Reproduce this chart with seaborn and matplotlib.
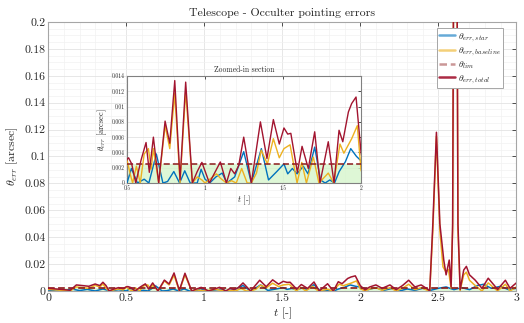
import numpy as np
import pandas as pd
import matplotlib
matplotlib.use('Agg')
import matplotlib.pyplot as plt
from matplotlib.lines import Line2D
from matplotlib.ticker import MultipleLocator
import seaborn as sns

# Values (t in [-], errors in arcsec)
theta_lim = 0.0025

t_star = [0.00, 0.05, 0.10, 0.15, 0.20, 0.25, 0.30, 0.35, 0.40, 0.45, 0.50, 0.528, 0.567,
          0.61, 0.64, 0.688, 0.73, 0.76, 0.80, 0.837, 0.87, 0.905, 0.95, 0.975, 1.00, 1.03,
          1.07, 1.11, 1.14, 1.19, 1.248, 1.297, 1.361, 1.407, 1.46, 1.506, 1.53, 1.56, 1.59,
          1.63, 1.66, 1.703, 1.74, 1.77, 1.80, 1.83, 1.86, 1.90, 1.934, 1.97, 2.00, 2.05,
          2.10, 2.15, 2.20, 2.25, 2.30, 2.35, 2.40, 2.45, 2.50, 2.55, 2.60, 2.65, 2.70, 2.75,
          2.79, 2.84, 2.90, 2.95, 3.00]
v_star = [0.0, 0.0008, 0.0, 0.0015, 0.0003, 0.0012, 0.0, 0.0015, 0.0, 0.001, 0.0, 0.0019, 0.0,
          0.0005, 0.0, 0.0038, 0.0, 0.0002, 0.0015, 0.0, 0.0016, 0.0, 0.0, 0.0018, 0.0005, 0.0,
          0.0008, 0.0013, 0.0, 0.0008, 0.0041, 0.0, 0.0045, 0.0004, 0.0015, 0.0025, 0.0012,
          0.0019, 0.0012, 0.0022, 0.0012, 0.0047, 0.0004, 0.0, 0.0004, 0.0, 0.0015, 0.0028,
          0.0045, 0.0035, 0.0029, 0.001, 0.0025, 0.0005, 0.0018, 0.0, 0.0015, 0.0005, 0.002,
          0.0005, 0.002, 0.003, 0.001, 0.0025, 0.001, 0.004, 0.005, 0.002, 0.0035, 0.001, 0.002]

t_base = [0.00, 0.05, 0.10, 0.14, 0.18, 0.22, 0.26, 0.30, 0.33, 0.35, 0.37, 0.39, 0.42, 0.45,
          0.48, 0.50, 0.52, 0.536, 0.56, 0.585, 0.61, 0.637, 0.655, 0.669, 0.703, 0.744, 0.774,
          0.806, 0.84, 0.876, 0.919, 0.95, 0.98, 1.00, 1.073, 1.10, 1.137, 1.17, 1.20, 1.235,
          1.27, 1.297, 1.33, 1.36, 1.40, 1.438, 1.476, 1.506, 1.545, 1.59, 1.62, 1.65, 1.694,
          1.73, 1.79, 1.825, 1.865, 1.89, 1.94, 1.976, 2.00, 2.03, 2.06, 2.10, 2.14, 2.19,
          2.23, 2.27, 2.31, 2.35, 2.39, 2.43, 2.445, 2.465, 2.488, 2.51, 2.53, 2.55, 2.565,
          2.582, 2.592, 2.597, 2.609, 2.621, 2.626, 2.64, 2.663, 2.68, 2.70, 2.737, 2.78, 2.82,
          2.86, 2.88, 2.93, 2.96, 3.00]
v_base = [0.0012, 0.0008, 0.0003, 0.0, 0.003, 0.0025, 0.002, 0.0042, 0.003, 0.0052, 0.002, 0.0,
          0.0008, 0.0015, 0.0008, 0.003, 0.0012, 0.0, 0.0022, 0.0, 0.0038, 0.0045, 0.0018,
          0.0045, 0.0, 0.0075, 0.0045, 0.0117, 0.0, 0.012, 0.0, 0.0008, 0.0004, 0.0, 0.0012,
          0.0006, 0.0, 0.0003, 0.0, 0.0019, 0.0, 0.0, 0.0013, 0.0043, 0.0025, 0.0058, 0.0033,
          0.0045, 0.005, 0.0, 0.0027, 0.0, 0.0034, 0.0, 0.0013, 0.0, 0.0051, 0.0039, 0.0058,
          0.0075, 0.0017, 0.0, 0.0015, 0.0025, 0.0005, 0.0025, 0.0, 0.002, 0.005, 0.001, 0.0025,
          0.0005, 0.0, 0.045, 0.115, 0.045, 0.018, 0.014, 0.016, 0.002, 0.045, 0.205, 0.29,
          0.205, 0.045, 0.0005, 0.012, 0.014, 0.008, 0.004, 0.0, 0.006, 0.002, 0.0, 0.005, 0.0,
          0.003]

t_total = [0.00, 0.05, 0.10, 0.14, 0.18, 0.22, 0.26, 0.30, 0.33, 0.35, 0.37, 0.39, 0.42, 0.45,
           0.48, 0.50, 0.51, 0.53, 0.556, 0.59, 0.622, 0.643, 0.669, 0.703, 0.744, 0.774,
           0.806, 0.84, 0.876, 0.919, 0.95, 0.98, 1.028, 1.098, 1.137, 1.165, 1.19, 1.216,
           1.248, 1.297, 1.355, 1.397, 1.438, 1.476, 1.506, 1.53, 1.55, 1.592, 1.622, 1.662,
           1.703, 1.737, 1.79, 1.827, 1.859, 1.883, 1.919, 1.94, 1.968, 2.00, 2.03, 2.06,
           2.10, 2.14, 2.19, 2.23, 2.27, 2.31, 2.35, 2.39, 2.43, 2.445, 2.465, 2.488, 2.51,
           2.535, 2.55, 2.57, 2.582, 2.592, 2.597, 2.609, 2.621, 2.626, 2.64, 2.663, 2.68,
           2.70, 2.737, 2.78, 2.82, 2.86, 2.88, 2.93, 2.96, 3.00]
v_total = [0.002, 0.0015, 0.001, 0.0005, 0.0045, 0.004, 0.0035, 0.0052, 0.004, 0.0065, 0.004,
           0.0, 0.0015, 0.0025, 0.0018, 0.0031, 0.0033, 0.0025, 0.0, 0.003, 0.0053, 0.0014,
           0.006, 0.0, 0.0081, 0.0052, 0.0134, 0.0004, 0.0132, 0.0, 0.0015, 0.0027, 0.0,
           0.00275, 0.0, 0.0019, 0.0012, 0.0023, 0.006, 0.0, 0.008, 0.0032, 0.0083, 0.0051,
           0.0072, 0.0064, 0.0065, 0.0014, 0.0048, 0.0019, 0.0067, 0.0, 0.0054, 0.0, 0.0069,
           0.0054, 0.0093, 0.0104, 0.01125, 0.004, 0.0008, 0.003, 0.0045, 0.002, 0.0045, 0.001,
           0.004, 0.008, 0.003, 0.0045, 0.0015, 0.0, 0.05, 0.118, 0.05, 0.023, 0.012, 0.023,
           0.003, 0.05, 0.21, 0.3, 0.21, 0.05, 0.001, 0.0156, 0.0183, 0.012, 0.008, 0.002,
           0.0095, 0.004, 0.001, 0.008, 0.002, 0.006]

main_xticks = [0, 0.5, 1, 1.5, 2, 2.5, 3]
main_xlabels = ['0', '0.5', '1', '1.5', '2', '2.5', '3']
main_yticks = [0, 0.02, 0.04, 0.06, 0.08, 0.1, 0.12, 0.14, 0.16, 0.18, 0.2]
main_ylabels = ['0', '0.02', '0.04', '0.06', '0.08', '0.1', '0.12', '0.14', '0.16', '0.18', '0.2']
zoom_xticks = [0.5, 1, 1.5, 2]
zoom_xlabels = ['0.5', '1', '1.5', '2']
zoom_yticks = [0, 0.002, 0.004, 0.006, 0.008, 0.01, 0.012, 0.014]
zoom_ylabels = ['0', '0.002', '0.004', '0.006', '0.008', '0.01', '0.012', '0.014']

c_star = '#0072BD'
c_base = '#EDB120'
c_lim = '#8B1A1A'
c_total = '#A2142F'
c_fill = '#d6f5cc'

sns.set_theme(style='whitegrid')
plt.rcParams['font.family'] = ['cmr10', 'DejaVu Serif']
plt.rcParams['mathtext.fontset'] = 'cm'
plt.rcParams['axes.formatter.use_mathtext'] = True
plt.rcParams['axes.unicode_minus'] = False

df_star = pd.DataFrame({'t': t_star, 'v': v_star})
df_base = pd.DataFrame({'t': t_base, 'v': v_base})
df_total = pd.DataFrame({'t': t_total, 'v': v_total})


def draw(ax, lw):
    ax.fill_between([0, 3], 0, theta_lim, color=c_fill, alpha=0.8, lw=0, zorder=1)
    sns.lineplot(data=df_star, x='t', y='v', ax=ax, color=c_star, lw=lw, zorder=3)
    sns.lineplot(data=df_base, x='t', y='v', ax=ax, color=c_base, lw=lw, zorder=4)
    ax.axhline(theta_lim, color=c_lim, ls='--', lw=lw * 1.1, dashes=(4, 2), zorder=5)
    sns.lineplot(data=df_total, x='t', y='v', ax=ax, color=c_total, lw=lw, zorder=6)


def style(ax, tick_size, frame='#a6a6a6'):
    ax.set_facecolor('white')
    for s in ax.spines.values():
        s.set_color(frame)
        s.set_linewidth(0.8)
    ax.tick_params(direction='in', length=3, width=0.6, colors='#333333',
                   labelsize=tick_size, top=True, right=True, pad=2)
    ax.tick_params(labelcolor='#262626')
    ax.tick_params(which='minor', length=0)
    ax.grid(True, which='major', color='#e3e3e3', lw=0.6)
    ax.grid(True, which='minor', color='#f1f1f1', lw=0.5)


fig = plt.figure(figsize=(5.24, 3.23), dpi=100)
ax = fig.add_axes([0.0922, 0.0991, 0.8931, 0.8328])
draw(ax, 1.1)
ax.set_xlim(0, 3)
ax.set_ylim(0, 0.2)
ax.set_xticks(main_xticks, main_xlabels)
ax.set_yticks(main_yticks, main_ylabels)
ax.xaxis.set_minor_locator(MultipleLocator(0.1))
ax.yaxis.set_minor_locator(MultipleLocator(0.005))
style(ax, 8.5)
ax.set_xlabel(r'$t$ [-]', fontsize=8.5, labelpad=2)
ax.set_ylabel(r'$\theta_{err}$ [arcsec]', fontsize=8.5, labelpad=3)
ax.set_title('Telescope - Occulter pointing errors', fontsize=8.5, pad=4)

handles = [Line2D([], [], color=c_star, lw=1.8, alpha=0.6),
           Line2D([], [], color=c_base, lw=1.8, alpha=0.6),
           Line2D([], [], color=c_lim, lw=1.8, alpha=0.45, ls='--', dashes=(3, 1.5)),
           Line2D([], [], color=c_total, lw=1.8, alpha=0.9)]
labels = [r'$\theta_{err,star}$', r'$\theta_{err,baseline}$', r'$\theta_{lim}$',
          r'$\theta_{err,total}$']
leg = ax.legend(handles, labels, loc='upper right', bbox_to_anchor=(0.972, 0.976),
                fontsize=7, frameon=True, fancybox=False, framealpha=1,
                edgecolor='#a6a6a6', handlelength=1.6, handletextpad=0.3,
                borderpad=0.25, labelspacing=0.15, borderaxespad=0)
leg.get_frame().set_linewidth(0.7)
leg.set_zorder(10)

axi = fig.add_axes([0.2424, 0.4334, 0.4466, 0.3313])
draw(axi, 1.0)
axi.set_xlim(0.5, 2)
axi.set_ylim(0, 0.014)
axi.set_xticks(zoom_xticks, zoom_xlabels)
axi.set_yticks(zoom_yticks, zoom_ylabels)
axi.xaxis.set_minor_locator(MultipleLocator(0.1))
style(axi, 4, frame='#808080')
axi.tick_params(length=2, pad=1.5)
axi.set_xlabel(r'$t$ [-]', fontsize=6, labelpad=2)
axi.set_ylabel(r'$\theta_{err}$ [arcsec]', fontsize=6, labelpad=2)
axi.set_title('Zoomed-in section', fontsize=5.5, pad=3)

fig.savefig('out.png', dpi=100)
